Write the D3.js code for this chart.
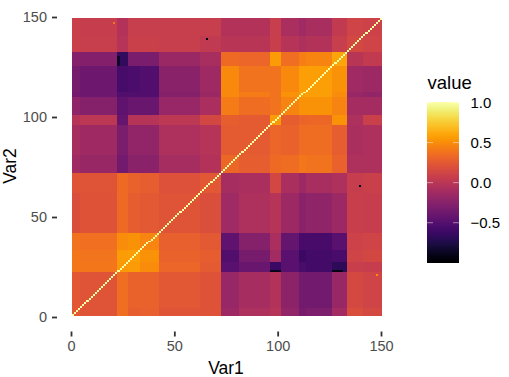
<!DOCTYPE html>
<html>
<head>
<meta charset="utf-8">
<title>Heatmap</title>
<script src="https://d3js.org/d3.v7.min.js"></script>
<style>
  body { margin: 0; background: #fff; }
  svg { display: block; }
  text { font-family: "Liberation Sans", Arial, sans-serif; }
</style>
</head>
<body>
<svg></svg>
<script>
// last index of each stretch of similar rows/columns
var segEnds = [4, 22, 27, 33, 42, 62, 72, 81, 96, 101, 110, 113, 126, 133, 141, 150];

// estimated value per stretch, one row per Var2 stretch (bottom to top), columns are Var1 stretches
var blockValues = [
  [ .24, .22, .36, .28, .29, .22, .21, -.15, -.07, -.02, -.20, -.33, -.30, -.12,  .18,  .15],
  [ .24, .22, .36, .30, .30, .24, .21, -.18, -.10, -.04, -.23, -.36, -.36, -.17,  .15,  .12],
  [ .40, .40, .55, .56, .50, .32, .26, -.48, -.40, -.62, -.48, -.55, -.58, -.68,  .08,  .06],
  [ .40, .39, .56, .58, .52, .30, .27, -.52, -.33, -.12, -.48, -.62, -.58, -.55,  .12,  .14],
  [ .38, .37, .50, .52, .47, .29, .25, -.45, -.26, -.08, -.43, -.56, -.56, -.48,  .10,  .12],
  [ .19, .21, .34, .27, .25, .22, .19, -.13, -.07, -.02, -.15, -.24, -.22, -.15,  .08,  .06],
  [ .22, .22, .34, .30, .27, .20, .24, -.10, -.08,  .14, -.08, -.15, -.09, -.06,  .06,  .09],
  [-.13, -.17, -.35, -.24, -.24, -.10, -.04, .33, .27, .34, .35, .40, .38, .30, -.06, -.06],
  [-.10, -.14, -.32, -.20, -.20, -.07, -.02, .26, .26, .32, .30, .35, .35, .27, -.08, -.06],
  [-.02, .01, -.42, -.02, -.02, .02, .14, .28, .26, .56, .27, .31, .33, .52, -.06, .09],
  [-.22, -.26, -.45, -.40, -.40, -.18, -.08, .42, .35, .38, .46, .52, .52, .46, -.11, -.11],
  [-.35, -.38, -.52, -.52, -.52, -.26, -.16, .48, .42, .38, .52, .58, .58, .50, -.18, -.20],
  [-.33, -.38, -.57, -.54, -.52, -.24, -.14, .48, .38, .38, .48, .58, .58, .52, -.13, -.15],
  [-.26, -.27, -.66, -.32, -.32, -.16, -.09, .34, .32, .56, .36, .44, .46, .60, -.01, .04],
  [ .09, .07, -.02, .09, .09, .07, .03, -.01, -.01, .08, -.02, -.06, -.04, .07, .15, .12],
  [ .09, .06, -.04, .07, .07, .07, .07, -.04, -.04, .07, -.08, -.13, -.09, .04, .12, .10]
];

// single cells that stand out: [Var1, Var2, value]
var oddCells = [
  [66, 140, -.97], [140, 66, -.97], [148, 21, .52], [21, 148, .38],
  [97, 23, -.9], [98, 23, -.9], [99, 23, -.9], [100, 23, -.9], [101, 23, -.9],
  [127, 23, -.92], [128, 23, -.92], [129, 23, -.92], [130, 23, -.92], [131, 23, -.92],
  [23, 127, -.85], [23, 128, -.85], [23, 129, -.85], [23, 130, -.85], [23, 131, -.85]
];

var xTicks = [0, 50, 100, 150];
var yTicks = [0, 50, 100, 150];
var legendTicks = [-0.5, 0, 0.5, 1];
var valueRange = [-0.99, 1];

var svg = d3.select("svg").attr("width", 509).attr("height", 377);

var x = d3.scaleLinear().domain([0.5, 150.5]).range([72, 382]);
var y = d3.scaleLinear().domain([0.5, 150.5]).range([316, 18]);
var color = d3.scaleSequential(d3.interpolateInferno).domain(valueRange);

var findSeg = d3.bisector(function (d) { return d; }).left;
var cells = [];
for (var j = 1; j <= 150; j++) {
    for (var i = 1; i <= 150; i++) {
        var v = i === j ? 1 : blockValues[findSeg(segEnds, j)][findSeg(segEnds, i)];
        cells.push({ var1: i, var2: j, value: v });
    }
}
oddCells.forEach(function (c) {
    cells[(c[1] - 1) * 150 + c[0] - 1].value = c[2];
});

svg.append("g").attr("shape-rendering", "crispEdges")
    .selectAll("rect")
    .data(cells)
    .enter().append("rect")
    .attr("x", function (d) { return x(d.var1 - 0.5); })
    .attr("y", function (d) { return y(d.var2 + 0.5); })
    .attr("width", x(1.5) - x(0.5))
    .attr("height", y(0.5) - y(1.5))
    .attr("fill", function (d) { return color(d.value); });

// axes sit away from the panel, like the original
var xAxis = svg.append("g").attr("transform", "translate(-0.7,331.5)")
    .call(d3.axisBottom(d3.scaleLinear().domain([0, 150]).range([71.7, 381.7]))
        .tickValues(xTicks).tickSize(5).tickPadding(4));
var yAxis = svg.append("g").attr("transform", "translate(57,0)")
    .call(d3.axisLeft(d3.scaleLinear().domain([0, 150]).range([317, 17]))
        .tickValues(yTicks).tickSize(5).tickPadding(5));

[xAxis, yAxis].forEach(function (a) {
    a.select(".domain").remove();
    a.selectAll("line").attr("stroke", "#333").attr("stroke-width", 1.8);
    a.selectAll("text").attr("fill", "#4d4d4d").style("font-size", "14.5px")
        .style("font-family", '"Liberation Sans", Arial, sans-serif');
});

svg.append("text").attr("x", 226).attr("y", 373.5).attr("text-anchor", "middle")
    .style("font-size", "17.5px").text("Var1");
svg.append("text").attr("transform", "translate(16,166) rotate(-90)").attr("text-anchor", "middle")
    .style("font-size", "17.5px").text("Var2");

// legend
var legendY = d3.scaleLinear().domain(valueRange).range([262, 102.5]);
var legendSteps = d3.range(0, 160);
svg.append("g").attr("shape-rendering", "crispEdges")
    .selectAll("rect")
    .data(legendSteps)
    .enter().append("rect")
    .attr("x", 427).attr("width", 32)
    .attr("y", function (d) { return 102 + d; })
    .attr("height", 1.5)
    .attr("fill", function (d) { return color(legendY.invert(102.5 + d)); });

var legendTick = svg.append("g").selectAll("g")
    .data(legendTicks)
    .enter().append("g")
    .attr("transform", function (d) { return "translate(0," + legendY(d) + ")"; });
legendTick.append("line").attr("x1", 427).attr("x2", 433).attr("stroke", "#fff").attr("stroke-opacity", 0.8).attr("stroke-width", 0.6);
legendTick.append("line").attr("x1", 453).attr("x2", 459).attr("stroke", "#fff").attr("stroke-opacity", 0.8).attr("stroke-width", 0.6);
legendTick.append("text").attr("x", 470.5).attr("dy", "0.36em")
    .style("font-size", "15px")
    .text(function (d) { return d3.format(".1f")(d); });

svg.append("text").attr("x", 427.5).attr("y", 89).style("font-size", "18.5px").text("value");
</script>
</body>
</html>
